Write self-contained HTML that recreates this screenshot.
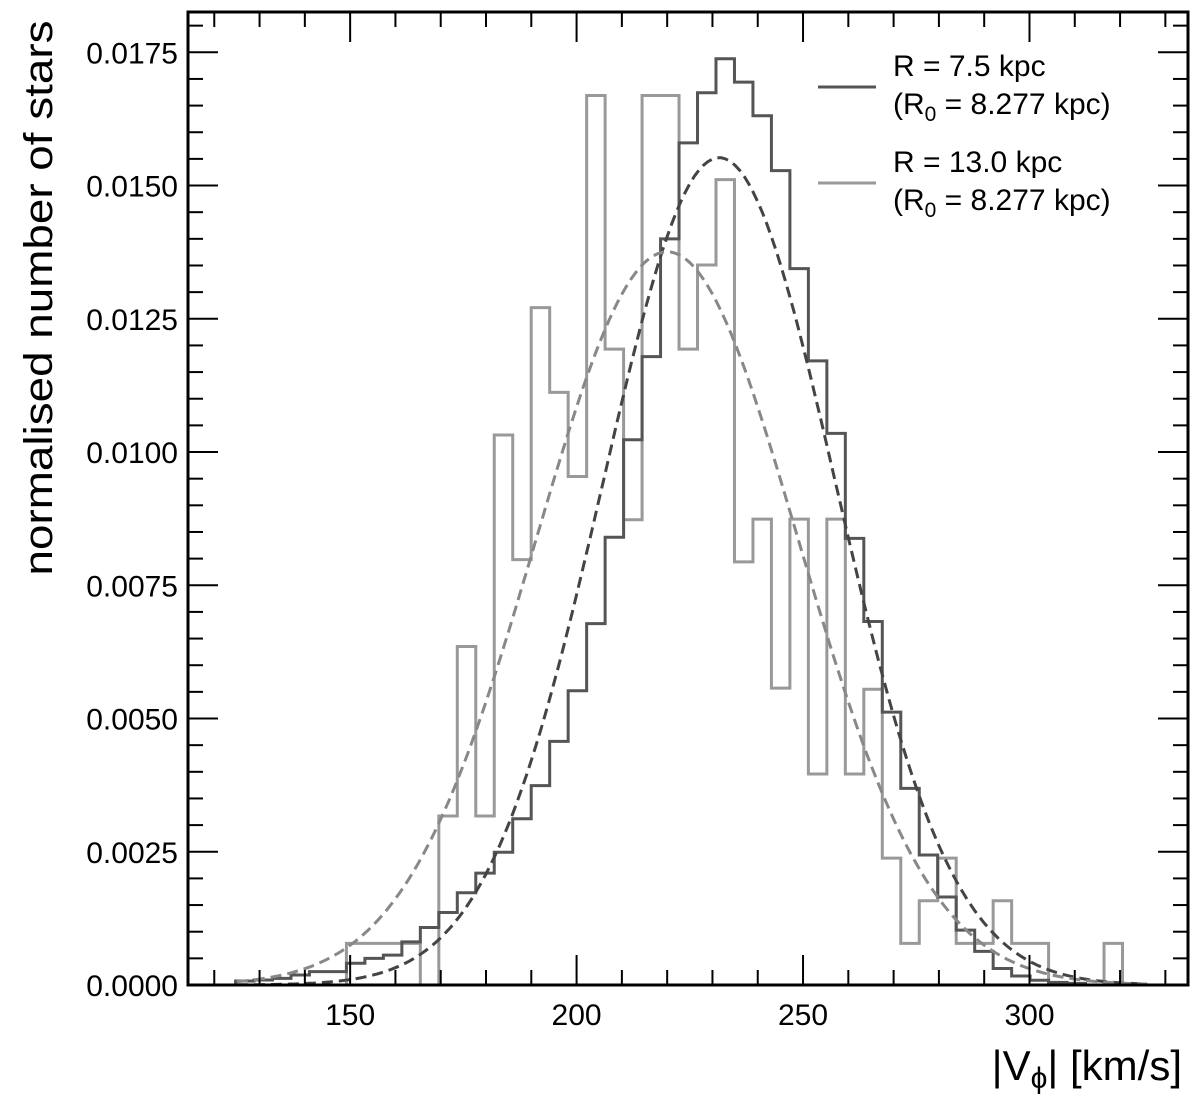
<!DOCTYPE html>
<html><head><meta charset="utf-8"><style>
html,body{margin:0;padding:0;background:#fff;}
svg{display:block;font-family:"Liberation Sans",Arial,sans-serif;}
</style></head><body>
<svg id="chart" width="1200" height="1098" viewBox="0 0 1200 1098" xmlns="http://www.w3.org/2000/svg">
<rect x="0" y="0" width="1200" height="1098" fill="#fff"/>
<g id="plot"></g>
<g id="ticks"></g>
<rect x="188" y="12" width="1000" height="973" fill="none" stroke="#000" stroke-width="3"/>
<text transform="translate(52,298) rotate(-90)" text-anchor="middle" font-size="40" textLength="555" lengthAdjust="spacingAndGlyphs">normalised number of stars</text>
<text x="1182" y="1080" text-anchor="end" font-size="42">|V<tspan font-size="30" dy="8">ϕ</tspan><tspan dy="-8">|  [km/s]</tspan></text>
<g>
<line x1="818" y1="87" x2="876" y2="87" stroke="#555" stroke-width="3"/>
<text x="893" y="76" font-size="30">R = 7.5 kpc</text>
<text x="893" y="114" font-size="30">(R<tspan font-size="21" dy="7">0</tspan><tspan dy="-7"> = 8.277 kpc)</tspan></text>
<line x1="818" y1="183" x2="876" y2="183" stroke="#999" stroke-width="3"/>
<text x="893" y="172" font-size="30">R = 13.0 kpc</text>
<text x="893" y="210" font-size="30">(R<tspan font-size="21" dy="7">0</tspan><tspan dy="-7"> = 8.277 kpc)</tspan></text>
</g>
</svg>
<script>
// data
const binStart = 124.7;
const binWidth = 4.08;
const darkCounts = [0.75,0.94,1.25,1.88,2.5,2.5,4.07,5.0,5.6,8.1,10.8,13.6,17.3,21.0,24.9,31.2,37.4,45.7,55.2,67.8,84.0,102.3,117.9,140.0,158.0,167.4,173.8,169.4,163.1,152.8,134.4,117.1,103.5,83.8,68.2,51.2,36.9,24.4,16.5,10.3,6.3,3.1,1.7,0.9,0.5,0.3];
const grayCounts = [0,0,0,0,0,0,7.8,7.8,7.8,7.8,0,31.7,63.5,31.7,103.2,79.8,127.1,111.2,95.4,166.9,119.3,87.3,166.9,166.9,119.3,135.1,151.1,79.4,87.4,55.7,87.4,39.6,87.4,39.6,55.5,23.8,7.8,15.8,23.8,7.8,7.8,15.8,7.8,7.8,0,0,0,7.8];
const fitMeans = [231.5, 220.0];
const fitSigmas = [25.7, 29.0];
const xTicks = [150,200,250,300];
const yTicks = [0,0.0025,0.005,0.0075,0.01,0.0125,0.015,0.0175];
const yTickLabels = ["0.0000","0.0025","0.0050","0.0075","0.0100","0.0125","0.0150","0.0175"];

const NS="http://www.w3.org/2000/svg";
const X0=188,X1=1188,Y0=985,Y1=12;
const xmin=114.2,xmax=335.0,ymin=0,ymax=0.018256;
function sx(v){return X0+(v-xmin)/(xmax-xmin)*(X1-X0);}
function sy(v){return Y0-(v-ymin)/(ymax-ymin)*(Y0-Y1);}
const plot=document.getElementById('plot');
const ticks=document.getElementById('ticks');
function mk(tag,attrs,parent){const e=document.createElementNS(NS,tag);for(const k in attrs)e.setAttribute(k,attrs[k]);parent.appendChild(e);return e;}

function histPath(counts){
  let d='';let started=false;
  let lastY=sy(0);
  for(let i=0;i<counts.length;i++){
    const xl=sx(binStart+i*binWidth),xr=sx(binStart+(i+1)*binWidth);
    const y=sy(counts[i]*1e-4);
    if(!started){
      if(counts[i]===0) continue;
      d+='M'+xl+','+sy(0)+' L'+xl+','+y;started=true;
    } else d+=' L'+xl+','+y;
    d+=' L'+xr+','+y;lastY=y;
  }
  const xe=sx(binStart+counts.length*binWidth);
  d+=' L'+xe+','+sy(0);
  return d;
}
const g1=mk('path',{d:histPath(grayCounts),fill:'none',stroke:'#999',"stroke-width":3},plot);


const d1=mk('path',{d:histPath(darkCounts),fill:'none',stroke:'#555',"stroke-width":3},plot);



const fitColors=['#444','#888'];
const fitNames=['fit-curve-r7-5','fit-curve-r13'];
for(let k=0;k<fitMeans.length;k++){
  let d='';
  for(let v=125;v<=326;v+=1){
    const val=Math.exp(-0.5*Math.pow((v-fitMeans[k])/fitSigmas[k],2))/(fitSigmas[k]*Math.sqrt(2*Math.PI));
    d+=(d?' L':'M')+sx(v).toFixed(1)+','+sy(val).toFixed(1);
  }
  const p=mk('path',{d:d,fill:'none',stroke:fitColors[k],"stroke-width":3,"stroke-dasharray":"11,6"},plot);
  
  
}

// x ticks
for(let v=120;v<=330;v+=10){
  const major=xTicks.indexOf(v)>=0;const L=major?30:15;
  const x=sx(v);
  mk('line',{x1:x,y1:Y0,x2:x,y2:Y0-L,stroke:'#000',"stroke-width":2},ticks);
  mk('line',{x1:x,y1:Y1,x2:x,y2:Y1+L,stroke:'#000',"stroke-width":2},ticks);
}
for(let i=0;i<xTicks.length;i++){
  const t=mk('text',{x:sx(xTicks[i]),y:1025,"text-anchor":"middle","font-size":30},ticks);
  t.textContent=String(xTicks[i]);
  
  
}
// y ticks
for(let i=0;i<=36;i++){
  const v=i*0.0005;if(v>ymax)break;
  const major=(i%5===0);const L=major?30:15;
  const y=sy(v);
  mk('line',{x1:X0,y1:y,x2:X0+L,y2:y,stroke:'#000',"stroke-width":2},ticks);
  mk('line',{x1:X1,y1:y,x2:X1-L,y2:y,stroke:'#000',"stroke-width":2},ticks);
}
for(let i=0;i<yTicks.length;i++){
  const t=mk('text',{x:178,y:sy(yTicks[i])+11,"text-anchor":"end","font-size":30},ticks);
  t.textContent=yTickLabels[i];
  
  
}
</script>
</body></html>
